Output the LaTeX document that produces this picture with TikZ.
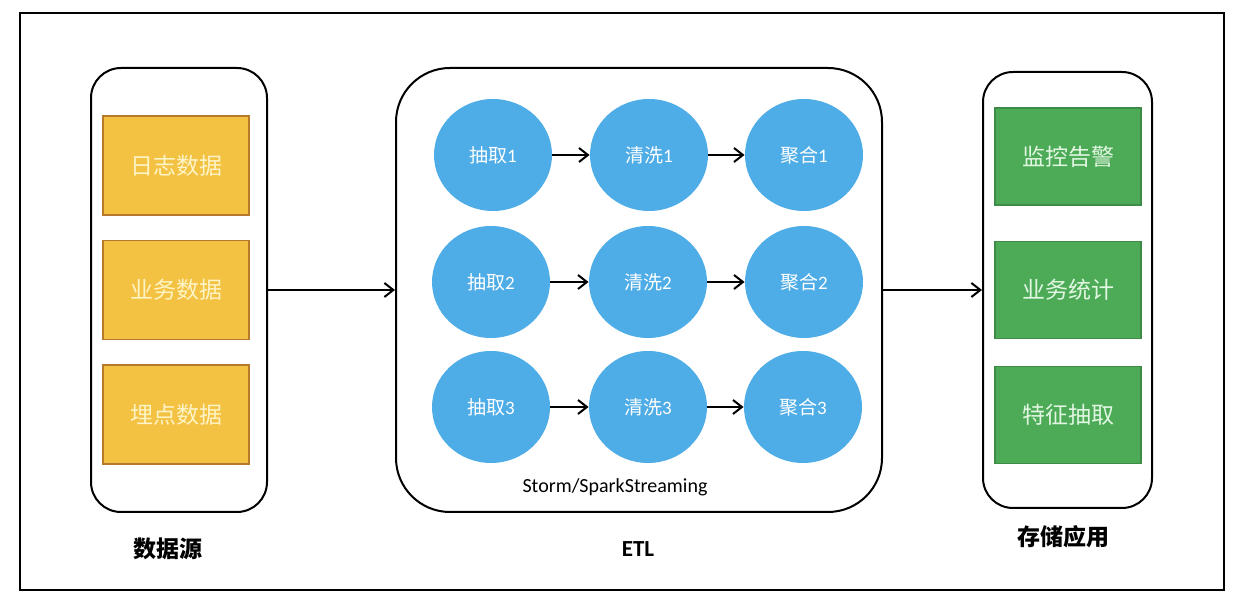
\documentclass[tikz,border=0pt]{standalone}
\usepackage{fontspec}
\newfontfamily\cjk{Noto Sans CJK SC}
\newfontfamily\lat{Carlito}
\usepackage{tikz}
\usetikzlibrary{arrows.meta,shapes.geometric}
\definecolor{boxyellow}{HTML}{F3C243}
\definecolor{lineyellow}{HTML}{B8792C}
\definecolor{textyellow}{HTML}{FFF4C6}
\definecolor{ballblue}{HTML}{4EACE6}
\definecolor{boxgreen}{HTML}{4DAB58}
\definecolor{linegreen}{HTML}{3D8B46}
\definecolor{textgreen}{HTML}{E2F7E2}

\begin{document}
\begin{tikzpicture}
[x=0.5pt,y=-0.5pt,
 holder/.style={draw,line width=1pt,minimum height=222pt},
 src/.style={draw=lineyellow,fill=boxyellow,line width=0.8pt,text=textyellow,
   minimum width=73pt,minimum height=49.5pt,font=\cjk\fontsize{11.5}{12}\selectfont},
 app/.style={draw=linegreen,fill=boxgreen,line width=0.8pt,text=textgreen,
   minimum width=73pt,minimum height=48.5pt,font=\cjk\fontsize{11.5}{12}\selectfont},
 ball/.style={ellipse,fill=ballblue,text=white,minimum width=59pt,minimum height=56pt,
   font=\cjk\fontsize{9.5}{10}\selectfont},
 flow/.style={-{Straight Barb[length=4.5pt,width=7pt,line width=1pt]},line width=1pt},
 title/.style={font=\cjk\bfseries\fontsize{11.5}{12}\selectfont}]
\useasboundingbox (0,0) rectangle (1254,614);
\draw[line width=1.3pt] (20,13) rectangle (1224,590);

% the three holders
\node[holder,minimum width=88pt,rounded corners=15pt] (source) at (179,290) {};
\node[holder,minimum width=243pt,rounded corners=27pt] (etl) at (639,290) {};
\node[holder,minimum width=84.5pt,minimum height=218pt,rounded corners=15pt] (store) at (1067.5,290) {};

% data sources
\node[src] (log) at (176,165.5) {日志数据};
\node[src] (biz) at (176,290) {业务数据};
\node[src] (track) at (176,414.5) {埋点数据};

% etl stages
\node[ball] (pick1) at (493,155) {抽取\lat 1};
\node[ball] (wash1) at (649,155) {清洗\lat 1};
\node[ball] (sum1) at (804,155) {聚合\lat 1};
\node[ball] (pick2) at (491,282) {抽取\lat 2};
\node[ball] (wash2) at (648,282) {清洗\lat 2};
\node[ball] (sum2) at (804,282) {聚合\lat 2};
\node[ball] (pick3) at (491,407) {抽取\lat 3};
\node[ball] (wash3) at (648,407) {清洗\lat 3};
\node[ball] (sum3) at (803,407) {聚合\lat 3};
\node[font=\lat\fontsize{10}{11}\selectfont] (engine) at (615,487) {Storm/SparkStreaming};

\draw[flow] (pick1) -- (wash1);
\draw[flow] (wash1) -- (sum1);
\draw[flow] (pick2) -- (wash2);
\draw[flow] (wash2) -- (sum2);
\draw[flow] (pick3) -- (wash3);
\draw[flow] (wash3) -- (sum3);

% applications
\node[app] (alarm) at (1068,156.5) {监控告警};
\node[app] (stat) at (1068,290) {业务统计};
\node[app] (feature) at (1068,415) {特征抽取};

\draw[flow] (source) -- (etl);
\draw[flow] (etl) -- (store);

% captions
\node[title] (srclabel) at (168,549) {数据源};
\node[font=\lat\bfseries\fontsize{11.5}{12}\selectfont] (etllabel) at (638,549) {ETL};
\node[title] (storelabel) at (1063,537) {存储应用};
\end{tikzpicture}
\end{document}
